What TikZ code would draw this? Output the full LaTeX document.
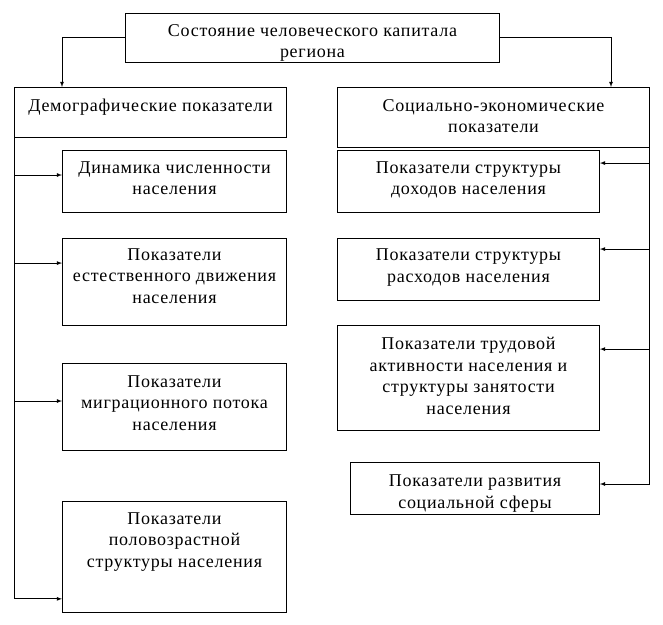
\documentclass[tikz,border=0pt]{standalone}
\usepackage{fontspec}
\setmainfont[LetterSpace=4]{Liberation Serif}
\usepackage{tikz}

\begin{document}
\begin{tikzpicture}[x=1bp, y=-1bp, >=latex,
    box/.style={draw, line width=0.8bp, inner sep=0pt, align=center,
                font=\fontsize{18bp}{21.5bp}\selectfont},
    link/.style={line width=0.8bp}]

    \useasboundingbox (0,0) rectangle (663,625);

    % ================= TOP =================
    \node[box, minimum width=375, text height=45bp, text depth=4bp] (top) at (312.5,37.5)
        {Состояние человеческого капитала\\региона};

    \node[box, minimum width=273, text height=25bp, text depth=25bp] (demo) at (150.5,112)
        {Демографические показатели};
    \node[box, minimum width=313, text height=46bp, text depth=14bp] (soc) at (493.5,117)
        {Социально-экономические\\показатели};

    \coordinate (demotip) at (62,87);
    \coordinate (soctip) at (611,87);
    \draw[link,->] (top.west) -| (demotip);
    \draw[link,->] (top.east) -| (soctip);

    % ================= LEFT COLUMN =================
    \node[box, minimum width=225, text height=45bp, text depth=17bp] (dyn) at (174.5,181)
        {Динамика численности\\населения};
    \node[box, minimum width=225, text height=65bp, text depth=22bp] (nat) at (174.5,281.5)
        {Показатели\\естественного движения\\населения};
    \node[box, minimum width=225, text height=67bp, text depth=20bp] (mig) at (174.5,406.5)
        {Показатели\\миграционного потока\\населения};
    \node[box, minimum width=225, text height=66bp, text depth=45bp] (age) at (174.5,556.5)
        {Показатели\\половозрастной\\структуры населения};

    \coordinate (dynin) at ([yshift=6]dyn.west);
    \coordinate (natin) at ([yshift=18.5]nat.west);
    \coordinate (migin) at ([yshift=5.5]mig.west);
    \coordinate (agein) at ([yshift=-42.5]age.west);

    \draw[link,->] (demo.south west) |- (agein);
    \draw[link,->] (demo.south west |- dynin) -- (dynin);
    \draw[link,->] (demo.south west |- natin) -- (natin);
    \draw[link,->] (demo.south west |- migin) -- (migin);

    % ================= RIGHT COLUMN =================
    \node[box, minimum width=263, text height=45bp, text depth=17bp] (inc) at (468.5,181)
        {Показатели структуры\\доходов населения};
    \node[box, minimum width=263, text height=44bp, text depth=18bp] (exp) at (468.5,269)
        {Показатели структуры\\расходов населения};
    \node[box, minimum width=263, text height=89bp, text depth=16bp] (lab) at (468.5,377.5)
        {Показатели трудовой\\активности населения и\\структуры занятости\\населения};
    \node[box, minimum width=250, text height=46bp, text depth=6bp] (soci) at (475,488)
        {Показатели развития\\социальной сферы};

    \coordinate (incin) at ([yshift=18]inc.east);
    \coordinate (expin) at ([yshift=20]exp.east);
    \coordinate (labin) at ([yshift=28.5]lab.east);
    \coordinate (sociin) at ([yshift=4]soci.east);

    \draw[link,->] (soc.south east) |- (sociin);
    \draw[link,->] (soc.south east |- incin) -- (incin);
    \draw[link,->] (soc.south east |- expin) -- (expin);
    \draw[link,->] (soc.south east |- labin) -- (labin);

\end{tikzpicture}
\end{document}
